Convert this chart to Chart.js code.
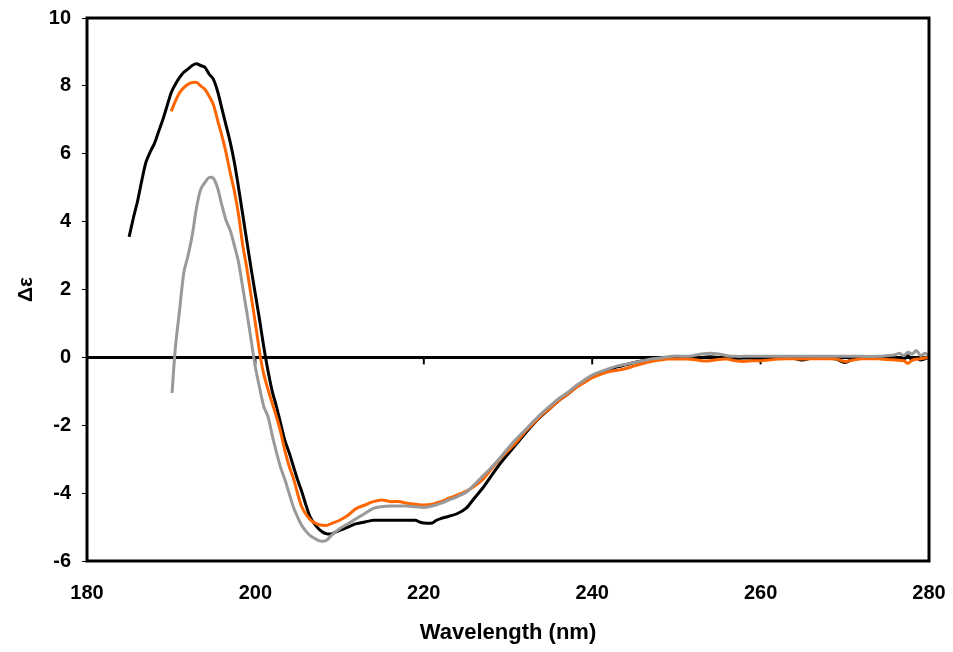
<!DOCTYPE html>
<html>
<head>
<meta charset="utf-8">
<script src="https://cdn.jsdelivr.net/npm/chart.js@4.4.1/dist/chart.umd.min.js"></script>
<style>
  html, body { margin: 0; padding: 0; background: #fff; }
</style>
</head>
<body>
<canvas id="myChart" width="953" height="652"></canvas>
<script>
// CD spectra (wavelength in nm, delta epsilon)
const blackX = [185,185.5,186,186.5,187,187.5,188,188.5,189,189.5,190,190.5,191,191.5,192,192.5,193,193.5,194,194.5,195,195.5,196,196.5,197,197.5,198,198.5,199,199.5,200,200.5,201,201.5,202,202.5,203,203.5,204,204.5,205,205.5,206,206.5,207,207.5,208,208.5,209,209.5,210,211,212,213,214,215,216,217,218,219,219.5,220,221,221.5,222,223,224,225,226,227,228,229,230,231,232,233,234,235,236,237,238,239,240,241,242,243,244,245,246,247,248,249,250,251,252,253,254,255,256,257,258,259,260,261,262,263,264,265,266,267,268,269,270,271,272,273,274,275,276,277,277.5,278,278.5,279,280];
const blackY = [3.55,4.1,4.6,5.2,5.75,6.05,6.3,6.65,7.0,7.4,7.8,8.05,8.25,8.4,8.5,8.6,8.65,8.6,8.55,8.35,8.2,7.85,7.35,6.85,6.35,5.75,5.0,4.2,3.4,2.6,1.85,1.1,0.3,-0.4,-1.0,-1.45,-1.95,-2.45,-2.8,-3.2,-3.6,-3.95,-4.35,-4.7,-4.9,-5.05,-5.15,-5.2,-5.2,-5.15,-5.1,-5.0,-4.9,-4.85,-4.8,-4.8,-4.8,-4.8,-4.8,-4.8,-4.85,-4.88,-4.88,-4.8,-4.75,-4.68,-4.6,-4.45,-4.15,-3.85,-3.5,-3.15,-2.85,-2.55,-2.25,-1.97,-1.72,-1.5,-1.28,-1.1,-0.9,-0.72,-0.58,-0.45,-0.36,-0.28,-0.22,-0.15,-0.1,-0.06,-0.03,-0.02,-0.02,-0.02,-0.02,0,0.02,0,-0.02,-0.03,-0.02,-0.03,-0.1,-0.03,-0.02,-0.02,-0.03,-0.08,-0.02,-0.02,-0.02,-0.05,-0.15,-0.05,-0.03,-0.03,-0.03,-0.03,0,-0.05,0.05,-0.08,-0.02,-0.08,0];

const orangeX = [190,190.5,191,191.5,192,192.5,193,193.5,194,194.5,195,195.5,196,196.5,197,197.5,198,198.5,199,199.5,200,200.6,201,201.5,202,202.5,203,203.5,204,204.5,205,205.5,206,206.5,207,207.5,208,208.5,209,210,211,212,213,214,215,216,217,218,219,220,221,222,223,224,225,226,227,228,229,230,231,232,233,234,235,236,237,238,239,240,241,242,243,244,245,246,247,248,249,250,251,252,253,254,255,256,257,258,259,260,261,262,263,264,265,266,267,268,269,270,271,272,273,274,275,276,277,277.5,278,279,280];
const orangeY = [7.25,7.55,7.8,7.95,8.05,8.1,8.1,8.0,7.9,7.7,7.45,7.0,6.55,6.05,5.45,4.9,4.2,3.3,2.6,1.8,1.0,0,-0.5,-0.95,-1.35,-1.75,-2.2,-2.75,-3.2,-3.55,-4.0,-4.4,-4.62,-4.78,-4.87,-4.93,-4.95,-4.95,-4.9,-4.8,-4.65,-4.45,-4.35,-4.25,-4.2,-4.25,-4.25,-4.3,-4.33,-4.35,-4.33,-4.25,-4.15,-4.05,-3.95,-3.8,-3.6,-3.3,-3.0,-2.75,-2.5,-2.2,-1.95,-1.7,-1.5,-1.28,-1.1,-0.9,-0.75,-0.6,-0.5,-0.42,-0.38,-0.33,-0.25,-0.18,-0.12,-0.08,-0.05,-0.05,-0.05,-0.06,-0.1,-0.1,-0.06,-0.05,-0.1,-0.12,-0.1,-0.1,-0.08,-0.05,-0.04,-0.04,-0.05,-0.04,-0.04,-0.04,-0.05,-0.12,-0.08,-0.04,-0.04,-0.04,-0.06,-0.08,-0.1,-0.18,-0.08,-0.04,0];

const grayX = [190.1,190.5,191,191.5,192,192.5,193,193.5,194,194.5,195,195.5,196,196.5,197,197.5,198,198.5,199,199.5,199.8,200,200.5,201,201.5,202,202.5,203,203.5,204,204.5,205,205.5,206,206.5,207,207.5,208,208.5,209,210,211,212,213,214,215,216,217,218,219,220,221,222,223,224,225,226,227,228,229,230,231,232,233,234,235,236,237,238,239,240,241,242,243,244,245,246,247,248,249,250,251,252,253,254,255,256,257,258,260,262,264,266,268,270,272,274,275,276,276.5,277,277.5,278,278.5,279,279.5,280];
const grayY = [-1.05,0.3,1.4,2.5,3.0,3.6,4.4,4.95,5.15,5.3,5.28,5.0,4.5,4.05,3.75,3.3,2.8,2.05,1.3,0.5,0,-0.3,-0.9,-1.45,-1.75,-2.3,-2.8,-3.25,-3.6,-4.0,-4.4,-4.7,-4.95,-5.12,-5.25,-5.33,-5.4,-5.42,-5.38,-5.25,-5.05,-4.9,-4.75,-4.6,-4.45,-4.4,-4.38,-4.38,-4.38,-4.4,-4.42,-4.38,-4.3,-4.2,-4.1,-3.98,-3.75,-3.5,-3.25,-2.98,-2.68,-2.4,-2.15,-1.89,-1.65,-1.43,-1.22,-1.05,-0.85,-0.68,-0.52,-0.42,-0.33,-0.25,-0.2,-0.15,-0.1,-0.05,-0.02,0.02,0.04,0.03,0.05,0.1,0.12,0.1,0.05,0.03,0.03,0.03,0.03,0.03,0.03,0.03,0.03,0.03,0.03,0.05,0.08,0.12,0.05,0.15,0.1,0.2,0.05,0.12,0.05];

const xTicks = [180, 200, 220, 240, 260, 280];
const yTicks = [-6, -4, -2, 0, 2, 4, 6, 8, 10];

function pts(xs, ys) {
  return xs.map((x, i) => ({ x: x, y: ys[i] }));
}

// zero line with its small tick marks, drawn under the curves; frame on top
const zeroLine = {
  id: 'zeroLine',
  beforeDatasetsDraw(chart) {
    const { ctx, chartArea, scales } = chart;
    const y0 = scales.y.getPixelForValue(0);
    ctx.save();
    ctx.strokeStyle = '#000';
    ctx.lineWidth = 3;
    ctx.beginPath();
    ctx.moveTo(chartArea.left, y0);
    ctx.lineTo(chartArea.right, y0);
    ctx.stroke();
    ctx.lineWidth = 2;
    xTicks.forEach(v => {
      const x = scales.x.getPixelForValue(v);
      ctx.beginPath();
      ctx.moveTo(x, y0);
      ctx.lineTo(x, y0 + 7);
      ctx.stroke();
    });
    ctx.restore();
  },
  afterDatasetsDraw(chart) {
    const { ctx, chartArea } = chart;
    ctx.save();
    ctx.strokeStyle = '#000';
    ctx.lineWidth = 3;
    ctx.strokeRect(chartArea.left, chartArea.top, chartArea.right - chartArea.left, chartArea.bottom - chartArea.top);
    ctx.restore();
  }
};

const fontFam = '"Liberation Sans", Arial, sans-serif';
const ctx = document.getElementById('myChart');

new Chart(ctx, {
  type: 'line',
  data: {
    datasets: [
      { label: 'grey', data: pts(grayX, grayY), borderColor: '#999999', borderWidth: 3 },
      { label: 'orange', data: pts(orangeX, orangeY), borderColor: '#FF6600', borderWidth: 3 },
      { label: 'black', data: pts(blackX, blackY), borderColor: '#000000', borderWidth: 3 }
    ]
  },
  options: {
    responsive: false,
    animation: false,
    elements: { point: { radius: 0 }, line: { tension: 0.3, fill: false } },
    layout: { padding: { top: 18, right: 24, left: 0, bottom: 0 } },
    plugins: { legend: { display: false }, tooltip: { enabled: false } },
    scales: {
      x: {
        type: 'linear',
        min: 180, max: 280,
        afterFit: s => { s.height = 91; s.paddingLeft = 0; s.paddingRight = 0; },
        afterBuildTicks: s => { s.ticks = xTicks.map(v => ({ value: v })); },
        grid: { display: false, drawTicks: false },
        border: { display: false },
        ticks: { color: '#000', padding: 20, maxRotation: 0, font: { family: fontFam, size: 20, weight: 'bold' } },
        title: { display: true, text: 'Wavelength (nm)', color: '#000', padding: { top: 0, bottom: 6 }, font: { family: fontFam, size: 22, weight: 'bold' } }
      },
      y: {
        min: -6, max: 10,
        afterFit: s => { s.width = 87; s.paddingTop = 0; s.paddingBottom = 0; },
        afterBuildTicks: s => { s.ticks = yTicks.map(v => ({ value: v })); },
        grid: { drawOnChartArea: false, drawTicks: true, tickLength: 5, color: '#000', lineWidth: 1 },
        border: { display: false },
        ticks: { color: '#000', padding: 11, font: { family: fontFam, size: 20, weight: 'bold' } },
        title: { display: true, text: 'Δε', color: '#000', padding: { top: 14, bottom: 0 }, font: { family: fontFam, size: 21, weight: 'bold' } }
      }
    }
  },
  plugins: [zeroLine]
});
</script>
</body>
</html>
